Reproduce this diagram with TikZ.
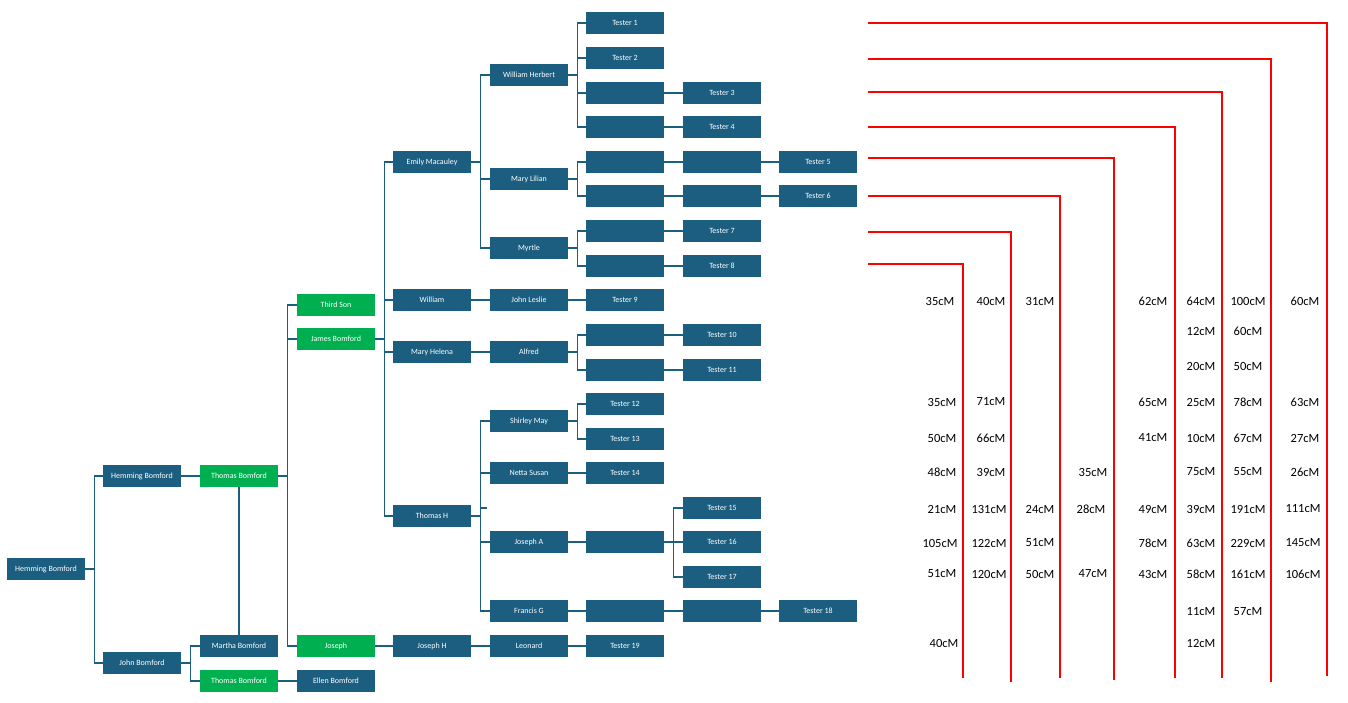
\documentclass[tikz,border=0pt]{standalone}
\usepackage{fontspec}
\setmainfont{Carlito}
\definecolor{bx}{HTML}{1B5E80}
\definecolor{gr}{HTML}{00B050}
\begin{document}
\begin{tikzpicture}[x=1pt,y=-1pt,
 box/.style={fill=bx,text=white,minimum width=78pt,minimum height=22pt,inner sep=0pt,font=\fontsize{8}{9}\selectfont},
 gbox/.style={box,fill=gr},
 ln/.style={draw=bx,line width=1.3pt},
 rl/.style={draw=red,line width=1.3pt},
 cmlabel/.style={font=\fontsize{12.5}{14}\selectfont,inner sep=0pt}]
\useasboundingbox (0,0) rectangle (1348,703);
% col1-4
\node[box] (hb1) at (46,569) {Hemming Bomford};
\node[box] (hb2) at (142,476) {Hemming Bomford};
\node[box] (jb) at (142,663) {John Bomford};
\node[gbox] (tb1) at (239,476) {Thomas Bomford};
\node[box] (mb) at (239,646) {Martha Bomford};
\node[gbox] (tb2) at (239,681) {Thomas Bomford};
\node[gbox] (ts) at (336,305) {Third Son};
\node[gbox] (jmb) at (336,339) {James Bomford};
\node[gbox] (jo) at (336,646) {Joseph};
\node[box] (eb) at (336,681) {Ellen Bomford};
% col5
\node[box] (em) at (432,162) {Emily Macauley};
\node[box] (wi) at (432,300) {William};
\node[box] (mh) at (432,352) {Mary Helena};
\node[box] (th) at (432,516) {Thomas H};
\node[box] (jh) at (432,646) {Joseph H};
% col6
\node[box] (wh) at (529,75) {William Herbert};
\node[box] (ml) at (529,179) {Mary Lilian};
\node[box] (my) at (529,248) {Myrtle};
\node[box] (jl) at (529,300) {John Leslie};
\node[box] (al) at (529,352) {Alfred};
\node[box] (sm) at (529,421) {Shirley May};
\node[box] (ns) at (529,473) {Netta Susan};
\node[box] (ja) at (529,542) {Joseph A};
\node[box] (fg) at (529,611) {Francis G};
\node[box] (le) at (529,646) {Leonard};
% col7
\node[box] (t1) at (625,23) {Tester 1};
\node[box] (t2) at (625,58) {Tester 2};
\node[box] (a3) at (625,93) {};
\node[box] (a4) at (625,127) {};
\node[box] (a5) at (625,162) {};
\node[box] (a6) at (625,196) {};
\node[box] (a7) at (625,231) {};
\node[box] (a8) at (625,266) {};
\node[box] (t9) at (625,300) {Tester 9};
\node[box] (a10) at (625,335) {};
\node[box] (a11) at (625,370) {};
\node[box] (t12) at (625,404) {Tester 12};
\node[box] (t13) at (625,439) {Tester 13};
\node[box] (t14) at (625,473) {Tester 14};
\node[box] (aja) at (625,542) {};
\node[box] (afg) at (625,611) {};
\node[box] (t19) at (625,646) {Tester 19};
% col8
\node[box] (t3) at (722,93) {Tester 3};
\node[box] (t4) at (722,127) {Tester 4};
\node[box] (b5) at (722,162) {};
\node[box] (b6) at (722,196) {};
\node[box] (t7) at (722,231) {Tester 7};
\node[box] (t8) at (722,266) {Tester 8};
\node[box] (t10) at (722,335) {Tester 10};
\node[box] (t11) at (722,370) {Tester 11};
\node[box] (t15) at (722,508) {Tester 15};
\node[box] (t16) at (722,542) {Tester 16};
\node[box] (t17) at (722,577) {Tester 17};
\node[box] (bfg) at (722,611) {};
% col9
\node[box] (t5) at (818,162) {Tester 5};
\node[box] (t6) at (818,196) {Tester 6};
\node[box] (t18) at (818,611) {Tester 18};
\coordinate (stub) at (487,508);
% connectors
\foreach \p/\c in {hb1/hb2,hb1/jb,jb/mb,jb/tb2,tb1/ts,tb1/jmb,tb1/jo,jmb/em,jmb/wi,jmb/mh,jmb/th,
 em/wh,em/ml,em/my,wh/t1,wh/t2,wh/a3,wh/a4,ml/a5,ml/a6,my/a7,my/a8,al/a10,al/a11,sm/t12,sm/t13,
 th/sm,th/ns,th/stub,th/ja,th/fg,aja/t15,aja/t16,aja/t17}
 \draw[ln] (\p.east) -- ++(9,0) |- (\c.west);
\foreach \p/\c in {hb2/tb1,tb2/eb,jo/jh,jh/le,le/t19,wi/jl,jl/t9,mh/al,ns/t14,ja/aja,fg/afg,afg/bfg,bfg/t18,
 a3/t3,a4/t4,a5/b5,b5/t5,a6/b6,b6/t6,a7/t7,a8/t8,a10/t10,a11/t11}
 \draw[ln] (\p.east) -- (\c.west);
\draw[ln] (tb1.south) -- (mb.north);
% red lines
\draw[rl] (868,23) -| (1327,676);
\draw[rl] (868,59) -| (1271,682);
\draw[rl] (868,92) -| (1222,678);
\draw[rl] (868,127) -| (1175,678);
\draw[rl] (868,158) -| (1114,680);
\draw[rl] (868,196) -| (1060,678);
\draw[rl] (868,232) -| (1011,682);
\draw[rl] (868,264) -| (963,678);
% labels
\foreach \x/\y/\t in {940/301/35,991/301/40,1040/301/31,1153/301/62,1201/301/64,1248/301/100,1305/301/60,
 1201/331/12,1248/331/60,1201/366/20,1248/366/50,
 942/402/35,991/402/71,1153/402/65,1201/402/25,1248/402/78,1305/402/63,
 942/438/50,991/438/66,1153/438/41,1201/438/10,1248/438/67,1305/438/27,
 942/472/48,991/472/39,1093/472/35,1201/472/75,1248/472/55,1305/472/26,
 942/509/21,989/509/131,1040/509/24,1091/509/28,1153/509/49,1201/509/39,1248/509/191,1303/509/111,
 940/543/105,989/543/122,1040/543/51,1153/543/78,1201/543/63,1248/543/229,1303/543/145,
 942/574/51,989/574/120,1040/574/50,1093/574/47,1153/574/43,1201/574/58,1248/574/161,1303/574/106,
 1201/612/11,1248/612/57,944/643/40,1201/643/12}
 \node[cmlabel] at (\x,\y) {\t cM};
\end{tikzpicture}
\end{document}
